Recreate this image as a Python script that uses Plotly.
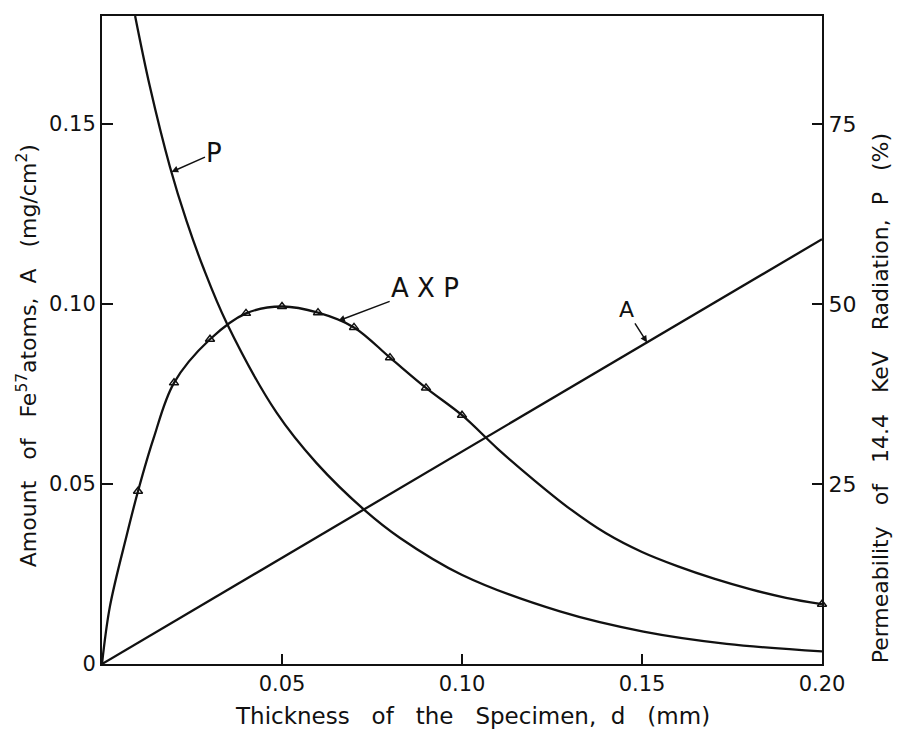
import numpy as np
import plotly.graph_objects as go

# ---- data ----
# Amount of Fe57 atoms A (mg/cm^2) vs thickness d (mm)
a_d = [0.0, 0.20]
a_v = [0.0, 0.118]

# Permeability P (%) of 14.4 keV radiation vs thickness d (mm)
p_d = [0.0092, 0.0133, 0.0189, 0.0235, 0.0281, 0.0346, 0.0485,
       0.0596, 0.0731, 0.0828, 0.0999, 0.1272, 0.1504, 0.1735, 0.20]
p_v = [90.0, 80.2, 69.0, 61.5, 55.1, 47.4, 34.9,
       27.9, 21.3, 17.5, 12.4, 7.3, 4.5, 2.8, 1.75]

# A x P curve (plotted on the left scale)
axp_d = [0.0, 0.0022, 0.0069, 0.01, 0.0143, 0.02, 0.03, 0.04, 0.05, 0.06, 0.07, 0.08,
         0.09, 0.10, 0.11, 0.12, 0.13, 0.14, 0.15, 0.16, 0.17, 0.18, 0.19, 0.20]
axp_v = [0.0, 0.0160, 0.0359, 0.0480, 0.0626, 0.0781, 0.0902, 0.0974, 0.0993, 0.0976,
         0.0935, 0.0851, 0.0767, 0.0691, 0.0597, 0.0511, 0.0431, 0.0363, 0.0311,
         0.0271, 0.0237, 0.0208, 0.0184, 0.0166]

# measured points (open triangles) on A x P
mark_d = [0.01, 0.02, 0.03, 0.04, 0.05, 0.06, 0.07, 0.08, 0.09, 0.10, 0.20]
mark_v = [0.0480, 0.0781, 0.0902, 0.0974, 0.0993, 0.0976, 0.0935,
          0.0851, 0.0767, 0.0691, 0.0166]

x_ticks = [0.05, 0.10, 0.15, 0.20]
x_ticktext = ["0.05", "0.10", "0.15", "0.20"]
y_ticks = [0, 0.05, 0.10, 0.15]
y_ticktext = ["0", "0.05", "0.10", "0.15"]
y2_ticks = [25, 50, 75]
y2_ticktext = ["25", "50", "75"]

x_title = "Thickness\u00a0\u00a0 of\u00a0\u00a0 the\u00a0\u00a0 Specimen,\u00a0 d\u00a0\u00a0 (mm)"
y_title = "Amount\u00a0\u00a0 of\u00a0\u00a0 Fe<sup>57</sup>atoms,\u00a0 A\u00a0\u00a0 (mg/cm<sup>2</sup>)"
y2_title = "Permeability\u00a0\u00a0 of\u00a0\u00a0 14.4\u00a0\u00a0 KeV\u00a0\u00a0 Radiation,\u00a0 P\u00a0\u00a0 (%)"

FONT = "DejaVu Sans"
BLACK = "#111111"

fig = go.Figure()

fig.add_trace(go.Scatter(x=a_d, y=a_v, mode="lines",
                         line=dict(color=BLACK, width=2.3), showlegend=False))
fig.add_trace(go.Scatter(x=axp_d, y=axp_v, mode="lines",
                         line=dict(color=BLACK, width=2.3, shape="spline", smoothing=1.0),
                         showlegend=False))
fig.add_trace(go.Scatter(x=mark_d, y=mark_v, mode="markers", cliponaxis=False,
                         marker=dict(symbol="triangle-up-open", size=8,
                                     color=BLACK, line=dict(width=1.5, color=BLACK)),
                         showlegend=False))
fig.add_trace(go.Scatter(x=p_d, y=p_v, mode="lines", yaxis="y2",
                         line=dict(color=BLACK, width=2.3, shape="spline", smoothing=1.0),
                         showlegend=False))

# annotation arrow tips located on the curves
tip_p_d = 0.0193
tip_p_v = float(np.interp(tip_p_d, p_d, p_v))
tip_axp_d = 0.0656
tip_axp_v = float(np.interp(tip_axp_d, axp_d, axp_v))
tip_a_d = 0.1514
tip_a_v = float(np.interp(tip_a_d, a_d, a_v))

arrow = dict(showarrow=True, arrowhead=2, arrowsize=0.9, arrowwidth=1.5, arrowcolor=BLACK)
fig.add_annotation(x=tip_p_d, y=tip_p_v, xref="x", yref="y2", text="P",
                   ax=43, ay=-19, font=dict(family=FONT, size=26, color=BLACK), **arrow)
fig.add_annotation(x=tip_axp_d, y=tip_axp_v, xref="x", yref="y", text="A X P",
                   ax=87, ay=-33, font=dict(family=FONT, size=26, color=BLACK), **arrow)
fig.add_annotation(x=tip_a_d, y=tip_a_v, xref="x", yref="y", text="A",
                   ax=-21, ay=-33, font=dict(family=FONT, size=22, color=BLACK), **arrow)

title_font = dict(family=FONT, size=22, color=BLACK)
# axis titles as placed text
fig.add_annotation(text=x_title, xref="paper", yref="paper", x=0.514, y=0,
                   yshift=-52, showarrow=False, xanchor="center", yanchor="middle",
                   font=dict(family=FONT, size=23, color=BLACK))
fig.add_annotation(text=y_title, xref="paper", yref="paper", x=0, y=0.475,
                   xshift=-75, showarrow=False, textangle=-90,
                   xanchor="center", yanchor="middle", font=title_font)
fig.add_annotation(text=y2_title, xref="paper", yref="paper", x=1, y=0.41,
                   xshift=58, showarrow=False, textangle=-90,
                   xanchor="center", yanchor="middle", font=title_font)

tick_font = dict(family=FONT, size=21, color=BLACK)
tick_font2 = dict(family=FONT, size=22, color=BLACK)

fig.update_layout(
    width=894, height=730,
    margin=dict(l=94, r=80, t=6, b=74),
    paper_bgcolor="white", plot_bgcolor="white",
    xaxis=dict(range=[0, 0.20], tickvals=x_ticks, ticktext=x_ticktext,
               ticks="inside", ticklen=10, tickwidth=1.5, tickcolor=BLACK,
               showline=True, linecolor=BLACK, linewidth=2, mirror=True,
               showgrid=False, zeroline=False, tickfont=tick_font),
    yaxis=dict(range=[0, 0.18], tickvals=y_ticks, ticktext=y_ticktext,
               ticks="inside", ticklen=11, tickwidth=1.5, tickcolor=BLACK,
               showline=True, linecolor=BLACK, linewidth=2,
               showgrid=False, zeroline=False, tickfont=tick_font),
    yaxis2=dict(range=[0, 90], overlaying="y", side="right",
                tickvals=y2_ticks, ticktext=y2_ticktext,
                ticks="inside", ticklen=10, tickwidth=1.5, tickcolor=BLACK,
                showline=True, linecolor=BLACK, linewidth=2,
                showgrid=False, zeroline=False, tickfont=tick_font2),
)

fig.write_html("out.html")
